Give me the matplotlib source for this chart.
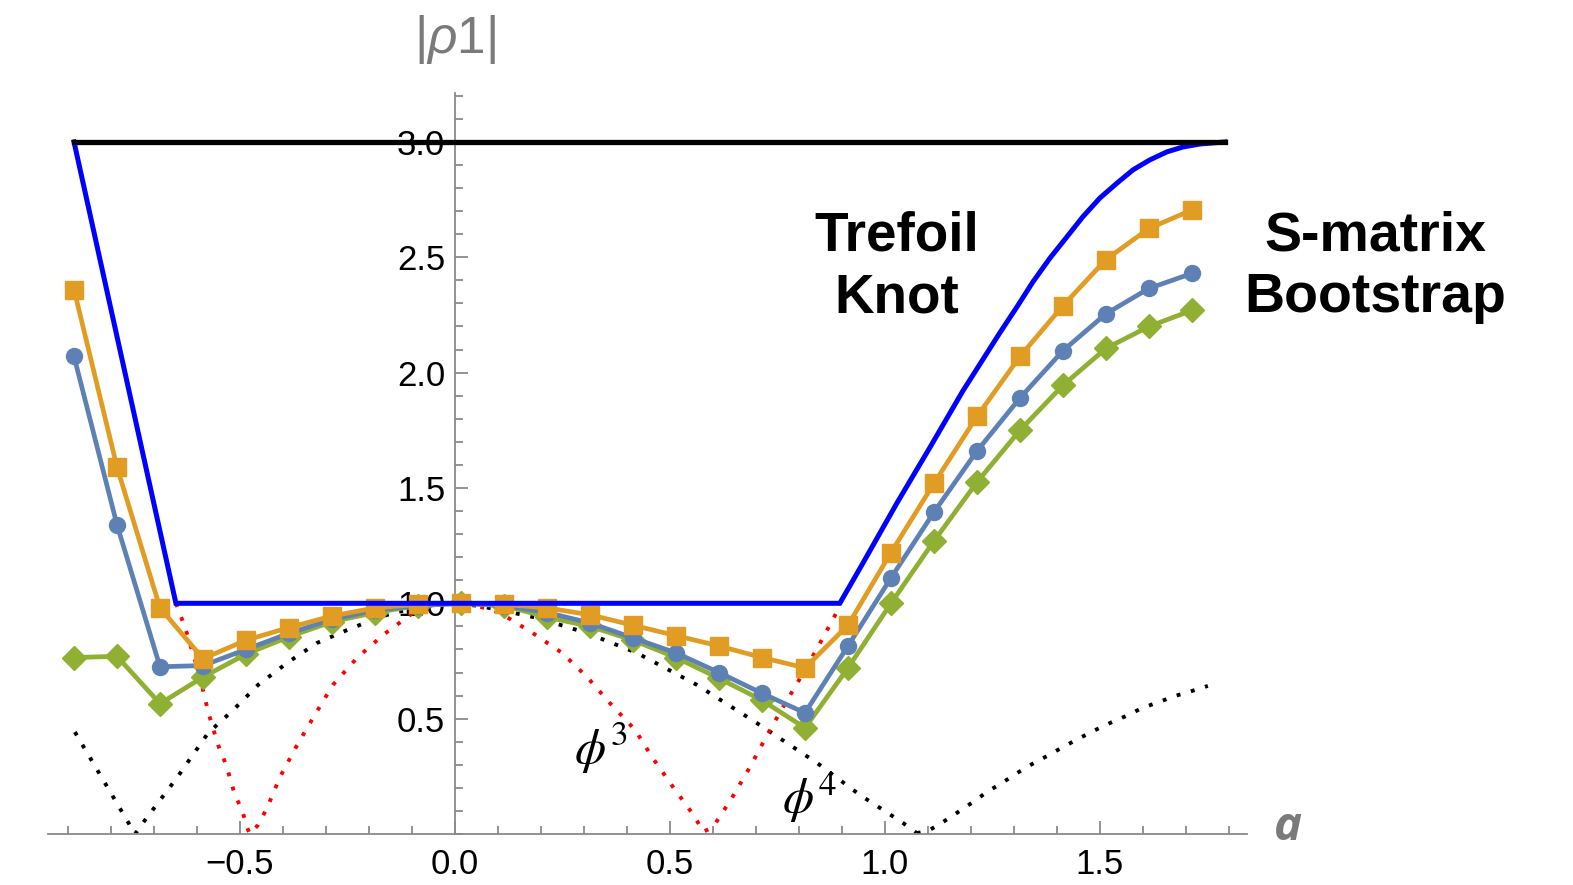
import matplotlib
matplotlib.use("Agg")
import matplotlib.pyplot as plt
from matplotlib.ticker import MultipleLocator, FixedLocator

# ---------------- data ----------------
a_vals = [-0.886, -0.786, -0.686, -0.586, -0.486, -0.386, -0.286, -0.186, -0.086,
          0.014, 0.114, 0.214, 0.314, 0.414, 0.514, 0.614, 0.714, 0.814, 0.914,
          1.014, 1.114, 1.214, 1.314, 1.414, 1.514, 1.614, 1.714]

orange_vals = [2.36, 1.59, 0.98, 0.76, 0.84, 0.895, 0.945, 0.98, 0.995,
               1.0, 0.995, 0.98, 0.95, 0.905, 0.86, 0.815, 0.765, 0.72, 0.905,
               1.22, 1.52, 1.81, 2.07, 2.29, 2.49, 2.625, 2.705]

blue_vals = [2.07, 1.34, 0.725, 0.73, 0.80, 0.87, 0.93, 0.97, 0.99,
             1.0, 0.99, 0.96, 0.915, 0.85, 0.785, 0.70, 0.61, 0.525, 0.815,
             1.11, 1.395, 1.66, 1.89, 2.095, 2.255, 2.365, 2.43]

green_vals = [0.765, 0.77, 0.565, 0.68, 0.78, 0.855, 0.92, 0.96, 0.99,
              1.0, 0.99, 0.94, 0.90, 0.84, 0.765, 0.675, 0.58, 0.46, 0.72,
              1.0, 1.27, 1.525, 1.75, 1.945, 2.105, 2.2, 2.27]

# trefoil knot bound (blue)
knot_x = [-0.886, -0.649, 0.895, 0.949, 1.028, 1.105, 1.181, 1.267, 1.307, 1.344,
          1.384, 1.423, 1.46, 1.5, 1.54, 1.577, 1.616, 1.656, 1.693, 1.733, 1.779, 1.791]
knot_y = [3.0, 1.0, 1.0, 1.175, 1.435, 1.677, 1.92, 2.172, 2.285, 2.393,
          2.497, 2.588, 2.675, 2.757, 2.822, 2.879, 2.922, 2.957, 2.978, 2.991, 2.998, 3.0]

# upper bound (black)
upper_x = [-0.886, 1.791]
upper_y = [3.0, 3.0]

# phi^4 dotted (black)
phi4_x = [-0.884, -0.744, -0.721, -0.647, -0.574, -0.516, -0.458, -0.391, -0.321,
          -0.251, -0.174, -0.135, -0.06, -0.01, 0.05, 0.105, 0.193, 0.307, 0.423,
          0.563, 0.702, 0.842, 0.942, 1.042, 1.074]
phi4_y = [0.442, 0.0, 0.06, 0.243, 0.438, 0.537, 0.646, 0.741, 0.828,
          0.884, 0.941, 0.962, 0.99, 1.0, 0.99, 0.971, 0.936, 0.871, 0.785,
          0.646, 0.481, 0.308, 0.169, 0.048, 0.004]
phi4b_x = [1.074, 1.1, 1.135, 1.17, 1.205, 1.237, 1.272, 1.307, 1.342, 1.377,
           1.414, 1.449, 1.484, 1.523, 1.56, 1.598, 1.637, 1.674, 1.714, 1.751]
phi4b_y = [0.004, 0.013, 0.052, 0.095, 0.139, 0.182, 0.221, 0.264, 0.303, 0.338,
           0.377, 0.412, 0.446, 0.481, 0.511, 0.546, 0.572, 0.598, 0.62, 0.642]

# phi^3 dotted (red)
phi3_x = [-0.649, -0.628, -0.593, -0.574, -0.551, -0.535, -0.523, -0.512, -0.495,
          -0.484, -0.477, -0.458, -0.437, -0.407, -0.367, -0.326, -0.284, -0.228,
          -0.167, -0.098, -0.04, 0.0, 0.05, 0.105, 0.181, 0.249, 0.307, 0.36, 0.419,
          0.46, 0.507, 0.558, 0.577, 0.6, 0.644, 0.686, 0.726, 0.763, 0.807, 0.844,
          0.888, 0.895]
phi3_y = [1.0, 0.897, 0.681, 0.529, 0.386, 0.312, 0.243, 0.169, 0.104,
          0.03, 0.0, 0.039, 0.113, 0.247, 0.386, 0.516, 0.646, 0.763,
          0.863, 0.958, 0.993, 1.0, 0.99, 0.958, 0.871, 0.785, 0.681, 0.568, 0.451,
          0.329, 0.204, 0.074, 0.009, 0.03, 0.156, 0.29, 0.429, 0.55, 0.689, 0.81,
          0.962, 1.0]

x_ticks = [-0.5, 0.0, 0.5, 1.0, 1.5]
y_ticks = [0.5, 1.0, 1.5, 2.0, 2.5, 3.0]

# ---------------- figure ----------------
plt.rcParams['font.family'] = ['Liberation Sans', 'DejaVu Sans']
plt.rcParams['mathtext.fontset'] = 'custom'
plt.rcParams['mathtext.it'] = 'Liberation Sans:italic'
plt.rcParams['mathtext.rm'] = 'Liberation Sans'

fig = plt.figure(figsize=(15.73, 8.85), dpi=100)
ax = fig.add_axes([48/1573, (885-834)/885, (1247-48)/1573, (834-93)/885])
ax.set_xlim(-0.9465, 1.842)
ax.set_ylim(0, 3.212)

c_or = '#E19C24'
c_bl = '#5E81B5'
c_gr = '#8FB032'

dot = (0, (1, 2.8))
ax.plot(phi4_x, phi4_y, color='black', lw=2.8, linestyle=dot, zorder=2)
ax.plot(phi4b_x, phi4b_y, color='black', lw=2.8, linestyle=dot, zorder=2)
ax.plot(phi3_x, phi3_y, color='red', lw=2.8, linestyle=dot, zorder=2)

ax.plot(a_vals, green_vals, color=c_gr, lw=3.4, marker='D', ms=12.5, zorder=3)
ax.plot(a_vals, blue_vals, color=c_bl, lw=3.4, marker='o', ms=11.5, zorder=3.1)
ax.plot(a_vals, orange_vals, color=c_or, lw=3.4, marker='s', ms=13.5, zorder=3.2)

ax.plot(knot_x, knot_y, color='#0000FF', lw=3.6, zorder=4, solid_joinstyle='miter')
ax.plot(upper_x, upper_y, color='black', lw=3.8, zorder=4)

# axes styling
for s in ['top', 'right']:
    ax.spines[s].set_visible(False)
ax.spines['left'].set_position(('data', 0))
ax.spines['bottom'].set_position(('data', 0))
for s in ['left', 'bottom']:
    ax.spines[s].set_color('#8a8a8a')
    ax.spines[s].set_linewidth(1.3)

ax.xaxis.set_major_locator(FixedLocator(x_ticks))
ax.yaxis.set_major_locator(FixedLocator(y_ticks))
ax.xaxis.set_minor_locator(MultipleLocator(0.1))
ax.yaxis.set_minor_locator(MultipleLocator(0.1))
ax.set_xticklabels([f"{v:.1f}".replace('-', '\u2212') for v in x_ticks])
ax.set_yticklabels([f"{v:.1f}" for v in y_ticks])
ax.tick_params(which='major', direction='in', length=9.5, width=1.3, color='#8a8a8a',
               labelsize=25, pad=7)
ax.tick_params(which='minor', direction='in', length=5.5, width=1.3, color='#8a8a8a')
ax.tick_params(axis='x', which='major', pad=10)

# axis labels
fig.text(455/1573, 1 - 40/885, r'|$\rho$1|', color='#7a7a7a', fontsize=37,
         ha='center', va='center')
fig.text(1288/1573, 1 - 828/885, 'a', color='#7a7a7a', fontsize=34,
         family='Open Sans', fontweight='bold', style='italic', ha='center', va='center')

# annotations
ax.text(1.028, 2.456, 'Trefoil\nKnot', fontsize=39.5, fontweight='bold', ha='center',
        va='center', linespacing=1.27, zorder=5)
ax.text(2.14, 2.456, 'S-matrix\nBootstrap', fontsize=40, fontweight='bold', ha='center',
        va='center', linespacing=1.25, clip_on=False, zorder=5)
ax.text(0.34, 0.37, r'$\phi^3$', fontsize=36, ha='center', va='center', zorder=5,
        math_fontfamily='stix')
ax.text(0.824, 0.16, r'$\phi^4$', fontsize=36, ha='center', va='center', zorder=5,
        math_fontfamily='stix')

fig.savefig('out.png', dpi=100)
